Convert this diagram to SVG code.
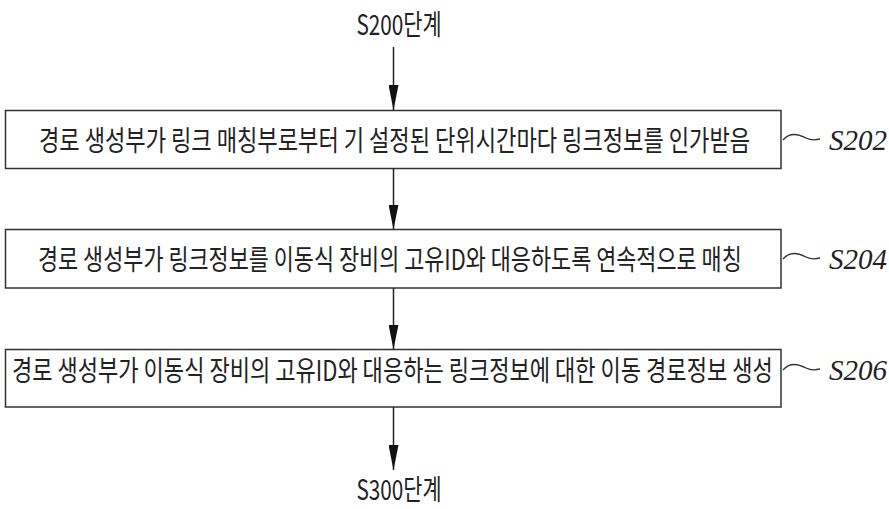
<svg xmlns="http://www.w3.org/2000/svg" width="889" height="509" viewBox="0 0 889 509">
<style>
.box{fill:#fff;stroke:#333;stroke-width:1.5}
.t{font-family:"Noto Sans CJK KR","Noto Sans",sans-serif;font-size:28px;fill:#222}
.lbl{font-family:"Liberation Serif",serif;font-style:italic;font-size:29px;fill:#222}
.ln{stroke:#222;stroke-width:1.5;fill:none}
.tl{stroke:#333;stroke-width:1.3;fill:none}
</style>
<defs>
<marker id="ah" markerWidth="26" markerHeight="10" refX="25" refY="5" orient="auto" markerUnits="userSpaceOnUse" viewBox="0 0 26 10">
<path d="M0,0 L25,5 L0,10 Z" fill="#111"/>
</marker>
</defs>
<g id="start"><g transform="translate(399,35) scale(0.74,1)"><text class="t" x="0" y="0" text-anchor="middle" textLength="115" lengthAdjust="spacingAndGlyphs">S200단계</text></g></g>
<g id="S202"><rect class="box" x="5.5" y="110.5" width="775.5" height="58"/><g transform="translate(39,151) scale(0.74,1)"><text class="t" x="0" y="0" textLength="961" lengthAdjust="spacingAndGlyphs">경로 생성부가 링크 매칭부로부터 기 설정된 단위시간마다 링크정보를 인가받음</text></g></g>
<g id="S202-label"><path class="tl" d="M783,140 C790,132 798,134 806,138 C812,141 816,140 820,139"/><text class="lbl" x="829" y="150">S202</text></g>
<g id="S204"><rect class="box" x="5.5" y="229.5" width="775.5" height="58.5"/><g transform="translate(38,270) scale(0.74,1)"><text class="t" x="0" y="0" textLength="951" lengthAdjust="spacingAndGlyphs">경로 생성부가 링크정보를 이동식 장비의 고유ID와 대응하도록 연속적으로 매칭</text></g></g>
<g id="S204-label"><path class="tl" d="M783,259 C790,251 798,253 806,257 C812,260 816,259 820,258"/><text class="lbl" x="829" y="269">S204</text></g>
<g id="S206"><rect class="box" x="5.5" y="349.5" width="775.5" height="57.5"/><g transform="translate(12,381) scale(0.74,1)"><text class="t" x="0" y="0" textLength="1028" lengthAdjust="spacingAndGlyphs">경로 생성부가 이동식 장비의 고유ID와 대응하는 링크정보에 대한 이동 경로정보 생성</text></g></g>
<g id="S206-label"><path class="tl" d="M783,370 C790,362 798,364 806,368 C812,371 816,370 820,369"/><text class="lbl" x="829" y="380">S206</text></g>
<g id="end"><g transform="translate(399,500) scale(0.74,1)"><text class="t" x="0" y="0" text-anchor="middle" textLength="115" lengthAdjust="spacingAndGlyphs">S300단계</text></g></g>
<g id="connectors">
<line class="ln" x1="393.5" y1="47" x2="393.5" y2="110" marker-end="url(#ah)"/>
<line class="ln" x1="393.5" y1="168.5" x2="393.5" y2="229.5" marker-end="url(#ah)"/>
<line class="ln" x1="393.5" y1="288" x2="393.5" y2="349.5" marker-end="url(#ah)"/>
<line class="ln" x1="393.5" y1="407" x2="393.5" y2="470" marker-end="url(#ah)"/>
</g>
</svg>
